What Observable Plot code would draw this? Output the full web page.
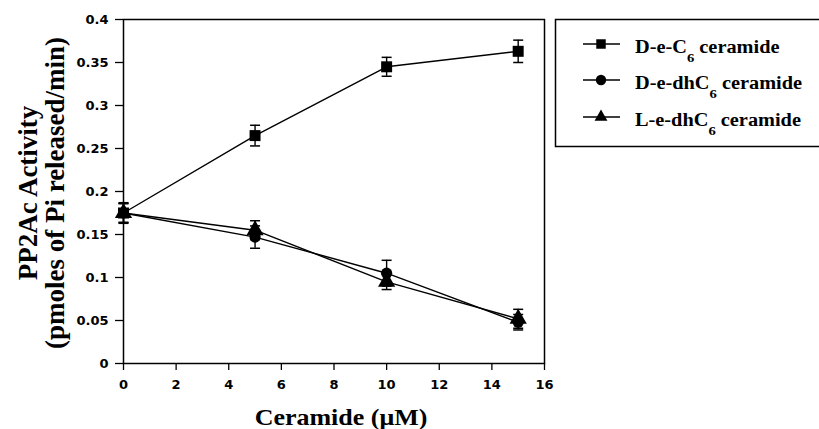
<!DOCTYPE html>
<html>
<head>
<meta charset="utf-8">
<script src="https://cdn.jsdelivr.net/npm/d3@7"></script>
<script src="https://cdn.jsdelivr.net/npm/@observablehq/plot@0.6"></script>
<style>
  html, body { margin: 0; padding: 0; background: #fff; }
  #chart { width: 819px; height: 429px; }
  .pp-chart g[aria-label*="tick label"] text,
  .pp-chart g[aria-label*="tick label"] {
    font-family: "DejaVu Sans", sans-serif !important;
    font-size: 13px !important;
    font-weight: bold !important;
  }
</style>
</head>
<body>
<div id="chart"></div>
<script>
// ---- data ----
const concentrations = [0, 5, 10, 15];
const seriesNames = ["D-e-C6 ceramide", "D-e-dhC6 ceramide", "L-e-dhC6 ceramide"];
const seriesSymbols = ["square", "circle", "triangle"];
const valuesC6 = [0.175, 0.265, 0.345, 0.363];
const errorsC6 = [0.011, 0.012, 0.011, 0.013];
const valuesDhC6 = [0.175, 0.147, 0.105, 0.048];
const errorsDhC6 = [0.012, 0.013, 0.015, 0.009];
const valuesLdhC6 = [0.175, 0.155, 0.095, 0.052];
const errorsLdhC6 = [0.011, 0.011, 0.009, 0.011];
const xTicks = [0, 2, 4, 6, 8, 10, 12, 14, 16];
const yTicks = [0, 0.05, 0.1, 0.15, 0.2, 0.25, 0.3, 0.35, 0.4];

const allValues = [valuesC6, valuesDhC6, valuesLdhC6];
const allErrors = [errorsC6, errorsDhC6, errorsLdhC6];
const markerRadius = {square: 6.2, circle: 5.6, triangle: 6.4};
const rows = [];
seriesNames.forEach((name, s) => {
  concentrations.forEach((c, i) => {
    rows.push({series: name, symbol: seriesSymbols[s], x: c, y: allValues[s][i], err: allErrors[s][i]});
  });
});

const capSymbol = {
  draw(context) { context.moveTo(-5, 0); context.lineTo(5, 0); }
};

const tickFont = "DejaVu Sans, sans-serif";

const chart = Plot.plot({
  className: "pp-chart",
  width: 819,
  height: 429,
  marginLeft: 123,
  marginRight: 275,
  marginTop: 19,
  marginBottom: 66,
  style: {fontFamily: tickFont, fontWeight: "bold", fontSize: "13px", background: "#fff", color: "#000"},
  x: {domain: [0, 16]},
  y: {domain: [0, 0.4]},
  r: {type: "identity"},
  symbol: {domain: seriesSymbols, range: seriesSymbols},
  marks: [
    Plot.frame({stroke: "#000", strokeWidth: 1.5}),
    Plot.axisX({ticks: xTicks, tickSize: 7, tickPadding: 9, label: null, strokeWidth: 1.3,
      fontSize: 13, fontWeight: "bold", fontFamily: tickFont}),
    Plot.axisY({ticks: yTicks, tickSize: 8, tickPadding: 7, label: null, strokeWidth: 1.3,
      fontSize: 13, fontWeight: "bold", fontFamily: tickFont,
      tickFormat: d => String(+d.toFixed(2))}),
    Plot.line(rows, {x: "x", y: "y", z: "series", stroke: "#000", strokeWidth: 1.4}),
    Plot.ruleX(rows, {x: "x", y1: d => d.y - d.err, y2: d => d.y + d.err, stroke: "#000", strokeWidth: 1.4}),
    Plot.dot(rows, {x: "x", y: d => d.y + d.err, symbol: () => capSymbol, stroke: "#000", strokeWidth: 1.5}),
    Plot.dot(rows, {x: "x", y: d => d.y - d.err, symbol: () => capSymbol, stroke: "#000", strokeWidth: 1.5}),
    Plot.dot(rows, {x: "x", y: "y", symbol: "symbol", fill: "#000", stroke: "none", r: d => markerRadius[d.symbol]})
  ]
});

document.getElementById("chart").appendChild(chart);

const svg = d3.select(chart);
// tick labels: the only text Plot draws here (axis titles are disabled)
svg.selectAll("text")
  .attr("font-family", tickFont).attr("font-size", 13).attr("font-weight", "bold")
  .style("font-family", tickFont).style("font-size", "13px").style("font-weight", "bold");

// ---- titles and legend ----
const serif = "'Liberation Serif', 'Times New Roman', serif";

svg.append("text")
  .attr("transform", "translate(37,193) rotate(-90)")
  .attr("text-anchor", "middle")
  .attr("font-family", serif).attr("font-weight", "bold").attr("font-size", 27)
  .text("PP2Ac Activity");
svg.append("text")
  .attr("transform", "translate(64,193) rotate(-90)")
  .attr("text-anchor", "middle")
  .attr("font-family", serif).attr("font-weight", "bold").attr("font-size", 27)
  .text("(pmoles of Pi released/min)");
svg.append("g")
  .attr("transform", "translate(341,425) scale(1.13,1)")
  .append("text")
  .attr("text-anchor", "middle")
  .attr("font-family", serif).attr("font-weight", "bold").attr("font-size", 23)
  .text("Ceramide (\u03bcM)");

const legend = svg.append("g");
legend.append("rect")
  .attr("x", 555.5).attr("y", 19.5).attr("width", 270).attr("height", 127)
  .attr("fill", "#fff").attr("stroke", "#000").attr("stroke-width", 1.5);

const legendParts = [["D-e-C", "6", " ceramide"], ["D-e-dhC", "6", " ceramide"], ["L-e-dhC", "6", " ceramide"]];
const symbolGen = {square: d3.symbolSquare, circle: d3.symbolCircle, triangle: d3.symbolTriangle};
const symbolSizes = {square: 90, circle: 85, triangle: 72};
const symbolY = [44, 80, 117];
legendParts.forEach((parts, i) => {
  const cy = symbolY[i];
  const g = legend.append("g");
  g.append("line").attr("x1", 583).attr("x2", 620).attr("y1", cy).attr("y2", cy)
    .attr("stroke", "#000").attr("stroke-width", 1.4);
  g.append("path")
    .attr("transform", `translate(601,${cy})`)
    .attr("d", d3.symbol(symbolGen[seriesSymbols[i]], symbolSizes[seriesSymbols[i]])())
    .attr("fill", "#000");
  const t = g.append("g").attr("transform", `translate(635,${cy + 9}) scale(1.13,1)`)
    .append("text").attr("x", 0).attr("y", 0).attr("text-anchor", "start")
    .attr("font-family", serif).attr("font-weight", "bold").attr("font-size", 18);
  t.append("tspan").text(parts[0]);
  t.append("tspan").attr("font-size", 13).attr("dy", 9).text(parts[1]);
  t.append("tspan").attr("dy", -9).text(parts[2]);
});
</script>
</body>
</html>
